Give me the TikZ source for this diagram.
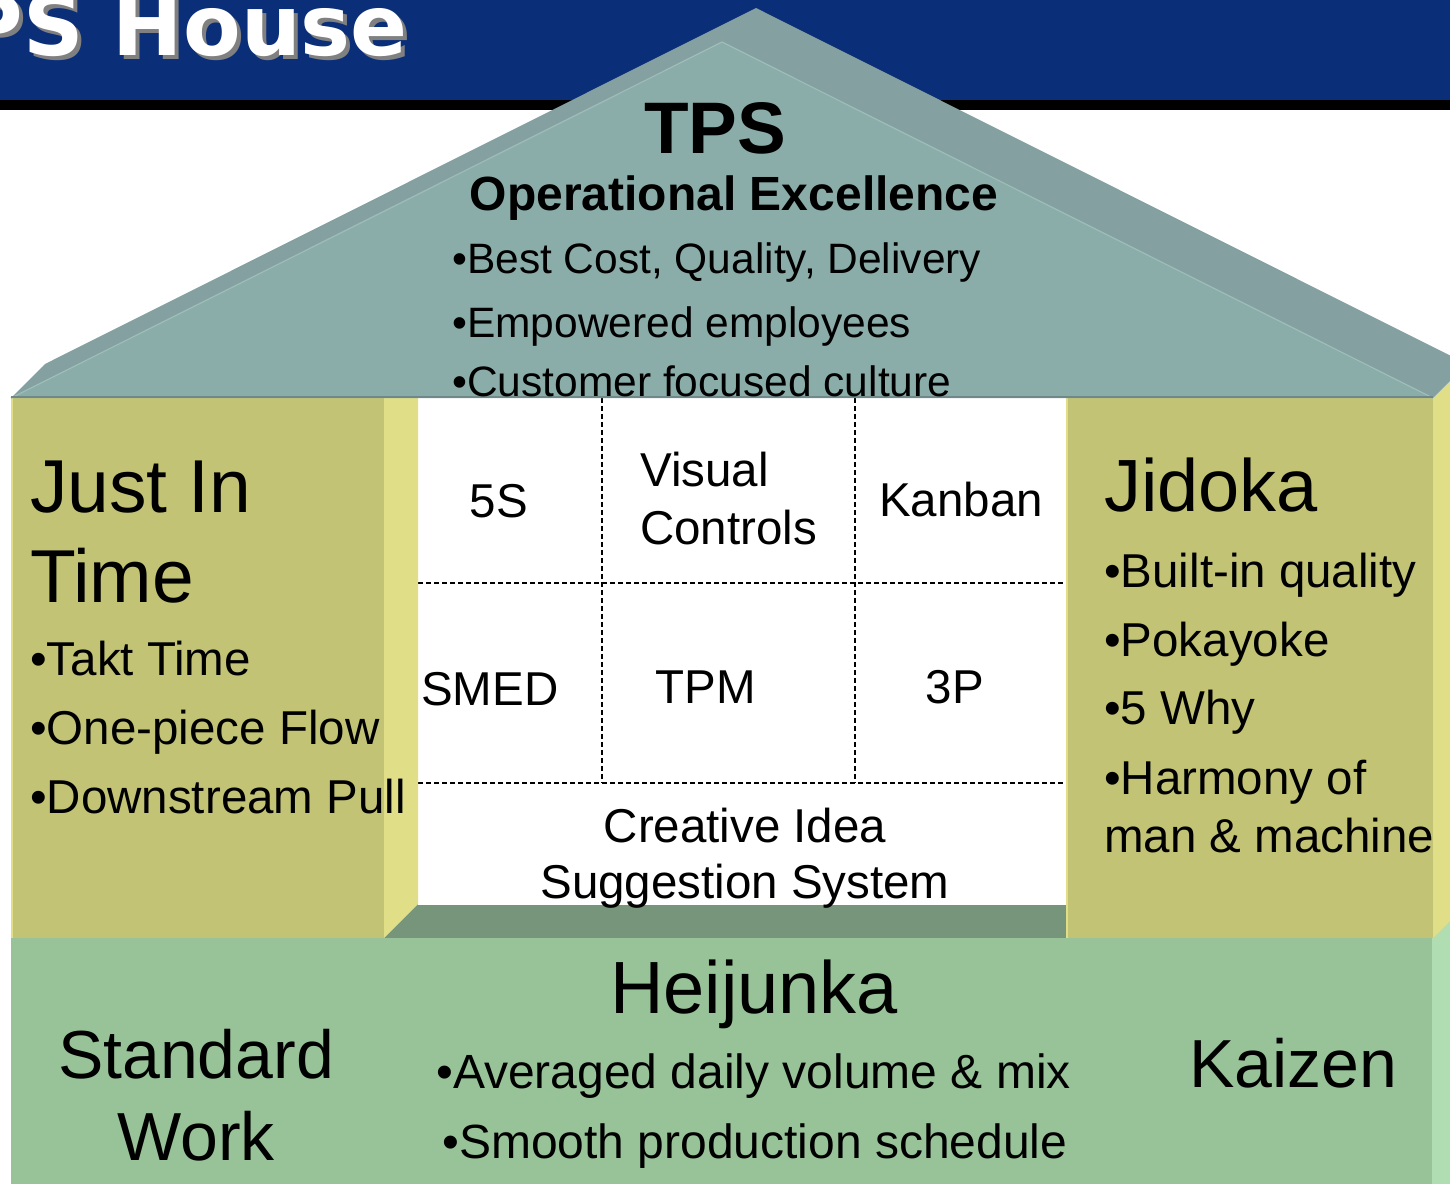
\documentclass[tikz,border=0pt]{standalone}
\usepackage{fontspec}
\setmainfont{Liberation Sans}
\newfontfamily\titlefont{DejaVu Sans}
\usepackage{xcolor}
\usepackage{tikz}
\definecolor{barblue}{HTML}{0A2E78}
\definecolor{rooffront}{HTML}{8BADAA}
\definecolor{rooftop}{HTML}{84A0A1}
\definecolor{roofline}{HTML}{9DBDB9}
\definecolor{pillarfront}{HTML}{C2C375}
\definecolor{pillarside}{HTML}{E0DF87}
\definecolor{basefront}{HTML}{98C298}
\definecolor{basetop}{HTML}{77957A}
\definecolor{baseside}{HTML}{B1DDB3}

\begin{document}
\begin{tikzpicture}[x=1pt,y=-1pt,
  txt/.style={inner sep=0pt,font=\fontsize{47.5}{57}\selectfont},
  rooftxt/.style={inner sep=0pt,font=\fontsize{42.5}{51}\selectfont},
  big/.style={inner sep=0pt,font=\fontsize{74}{89}\selectfont},
  mid/.style={inner sep=0pt,font=\fontsize{68}{82}\selectfont},
  gridline/.style={black,line width=1.3pt,dash pattern=on 4.5pt off 3.5pt}]
\newcommand{\dpt}{34}
\useasboundingbox (0,0) rectangle (1450,1183);
  \fill[barblue] (0,0) rectangle (1450,100);
  \fill[black] (0,100) rectangle (1450,110);
  \node[inner sep=0pt,anchor=base east,text=gray,font=\titlefont\bfseries\fontsize{84}{100}\selectfont] (titleshadow) at (412,59) {TPS House};
  \node[inner sep=0pt,anchor=base east,text=white,font=\titlefont\bfseries\fontsize{84}{100}\selectfont] (title) at (408,55) {TPS House};
  \fill[basetop] (11,938) -- (11+\dpt,938-\dpt) -- (1432+\dpt,938-\dpt) -- (1432,938) -- cycle;
  \fill[basefront] (11,938) rectangle (1432,1190);
  \fill[baseside] (1432,938) -- (1432+\dpt,938-\dpt) -- (1432+\dpt,1190) -- (1432,1190) -- cycle;
  \fill[white] (418,398) rectangle (1066,905);
  \foreach \x in {602,855} \draw[gridline] (\x,398) -- (\x,783);
  \foreach \y in {583,783} \draw[gridline] (418,\y) -- (1066,\y);
  \foreach \a/\b in {11/384,1066/1433} {
    \fill[pillarside] (\b,938) -- (\b+\dpt,938-\dpt) -- (\b+\dpt,398-\dpt) -- (\b,398) -- cycle;
    \fill[pillarfront] (\a,398) rectangle (\b,938);
    \draw[pillarside,line width=1.5pt] (\a+0.75,398) -- (\a+0.75,938);
  }
  \fill[rooftop] (11,398) -- (11+\dpt,398-\dpt) -- (722+\dpt,42-\dpt) -- (1433+\dpt,398-\dpt) -- (1433,398) -- (722,42) -- cycle;
  \fill[rooffront] (11,398) -- (722,42) -- (1433,398) -- cycle;
  \draw[roofline,line width=1.2pt] (11,398) -- (722,42) -- (1433,398);
  \draw[rooftop!85!black,line width=1.5pt] (11,397) -- (1433,397);
  \node[inner sep=0pt,anchor=base,font=\fontsize{73}{88}\selectfont\bfseries] (tps) at (715,153) {TPS};
  \node[inner sep=0pt,anchor=base,font=\fontsize{48}{58}\selectfont\bfseries] (opex) at (734,210) {Operational Excellence};
  \foreach \t/\y [count=\i] in {{Best Cost, Quality, Delivery}/273,{Empowered employees}/337,{Customer focused culture}/396}
    \node[rooftxt,anchor=base west] (goal\i) at (452,\y) {•\t};
  \node[inner sep=0pt,anchor=base west,font=\fontsize{75}{90}\selectfont] (jit1) at (30,512) {Just In};
  \node[inner sep=0pt,anchor=base west,font=\fontsize{75}{90}\selectfont] (jit2) at (30,602) {Time};
  \foreach \t/\y [count=\i] in {{Takt Time}/675,{One-piece Flow}/744,{Downstream Pull}/813}
    \node[txt,anchor=base west] (jitb\i) at (30,\y) {•\t};
  \node[big,anchor=base west] (jidoka) at (1104,511) {Jidoka};
  \foreach \t/\y [count=\i] in {{Built-in quality}/587,{Pokayoke}/656,{5 Why}/724,{Harmony of}/794}
    \node[txt,anchor=base west] (jidb\i) at (1104,\y) {•\t};
  \node[txt,anchor=base west] (jidb5) at (1104,852) {man \& machine};
  \node[txt,anchor=base] (fives) at (499,517) {5S};
  \node[txt,anchor=base west] (visual1) at (640,486) {Visual};
  \node[txt,anchor=base west] (visual2) at (640,544) {Controls};
  \node[txt,anchor=base west] (kanban) at (879,516) {Kanban};
  \node[txt,anchor=base west] (smed) at (421,705) {SMED};
  \node[txt,anchor=base] (tpm) at (706,703) {TPM};
  \node[txt,anchor=base] (threep) at (955,703) {3P};
  \node[txt,anchor=base] (idea1) at (745,842) {Creative Idea};
  \node[txt,anchor=base] (idea2) at (745,898) {Suggestion System};
  \node[big,anchor=base] (heijunka) at (754,1013) {Heijunka};
  \node[txt,anchor=base west,font=\fontsize{48}{58}\selectfont] (heib1) at (436,1088) {•Averaged daily volume \& mix};
  \node[txt,anchor=base west,font=\fontsize{48}{58}\selectfont] (heib2) at (442,1158) {•Smooth production schedule};
  \node[mid,anchor=base] (std1) at (196,1078) {Standard};
  \node[mid,anchor=base] (std2) at (196,1160) {Work};
  \node[mid,anchor=base] (kaizen) at (1293,1087) {Kaizen};
\end{tikzpicture}
\end{document}
